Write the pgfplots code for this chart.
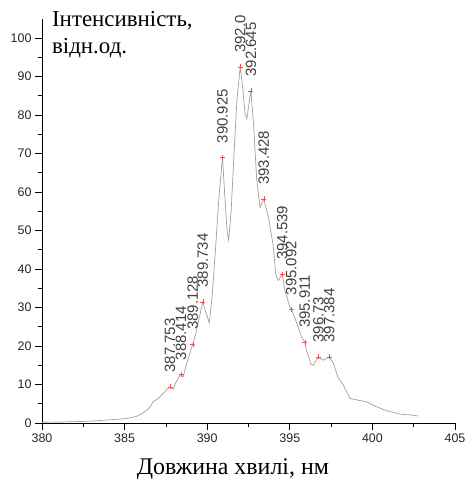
\documentclass[border=0pt]{standalone}
\usepackage{fontspec}
\setmainfont{Liberation Serif}
\newfontfamily\timesf{Liberation Serif}
\newfontfamily\arial{Liberation Sans}
\usepackage{pgfplots}
\pgfplotsset{compat=1.18}
\begin{document}
\begin{tikzpicture}
\path (-42bp,-58bp) rectangle (423bp,423bp);
\begin{axis}[
  scale only axis,
  x=16.52bp, y=3.85bp,
  xmin=380, xmax=405, ymin=0, ymax=105,
  axis x line*=bottom, axis y line*=left,
  axis line style={-, line width=0.9bp},
  xtick={380,385,...,405}, ytick={0,10,...,100},
  minor x tick num=1, minor y tick num=1,
  tick align=outside,
  major tick length=7bp, minor tick length=4bp,
  tick style={black, line width=0.8bp},
  ticklabel style={font=\arial\fontsize{12.5}{14}\selectfont, text=black!85},
  /pgf/number format/assume math mode=true,
  clip=false,
]
\addplot[color=gray!75, line width=0.7bp, mark=none] coordinates {
(380.0,0.2) (381.0,0.25) (382.0,0.35) (383.0,0.5) (384.0,0.8) (384.7,1.0)
(385.3,1.3) (385.7,1.7) (386.0,2.3) (386.4,3.5) (386.74,5.5) (387.0,6.3)
(387.3,7.5) (387.6,8.9) (387.753,9.4) (387.95,8.8) (388.1,10.5) (388.3,12.0)
(388.414,12.6) (388.55,12.0) (388.7,14.5) (388.9,17.5) (389.128,20.5) (389.3,23)
(389.5,27) (389.734,31.5) (389.9,29) (390.13,26) (390.3,33) (390.5,45)
(390.7,58) (390.925,69) (391.05,60) (391.2,50) (391.3,47.5) (391.45,55)
(391.6,68) (391.8,84) (392.0,92.5) (392.15,87) (392.3,80) (392.4,79)
(392.5,82) (392.645,86.3) (392.8,78) (393.0,63) (393.2,56) (393.428,58.2)
(393.7,53.6) (394.0,46) (394.15,38.5) (394.3,37) (394.45,38) (394.539,38.7)
(394.7,34.5) (395.0,30.2) (395.092,29.5) (395.2,28.5) (395.5,25) (395.7,22.4)
(395.911,21) (396.0,19) (396.28,15.3) (396.42,15.0) (396.55,16) (396.73,17.2)
(396.9,16.6) (397.03,16.3) (397.2,16.8) (397.384,17.2) (397.64,15.5) (397.94,11.6)
(398.24,9.9) (398.64,6.4) (399.05,6.0) (399.65,5.5) (400.26,4.2) (400.86,3.2)
(401.67,2.3) (402.3,2.1) (402.78,1.8)
};
\addplot[only marks, mark=+, mark size=2.5bp, color=red!70!white,
  nodes near coords, point meta=explicit symbolic,
  every node near coord/.style={font=\arial\fontsize{15}{15}\selectfont, text=black!75,
     yshift=14bp, rotate=90, anchor=west, inner sep=0pt}]
coordinates {
(387.753,9.4)[387.753]
(388.414,12.6)[388.414]
(389.128,20.5)[389.128]
(389.734,31.5)[389.734]
(390.925,69)[390.925]
(392.0,92.5)[392.0]
(392.645,86.3)[392.645]
(393.428,58.2)[393.428]
(394.539,38.7)[394.539]
(395.092,29.5)[395.092]
(395.911,21)[395.911]
(396.73,17.2)[396.73]
(397.384,17.2)[397.384]
};
\node[anchor=north west, align=left, inner sep=0pt,
  font=\timesf\fontsize{23}{27.5}\selectfont]
  at (axis cs:380.6,107) {Інтенсивність,\\відн.од.};
\node[anchor=base, inner sep=0pt, font=\timesf\fontsize{24}{26}\selectfont]
  at (axis cs:391.56,-13.5) {Довжина хвилі, нм};
\end{axis}
\end{tikzpicture}
\end{document}
